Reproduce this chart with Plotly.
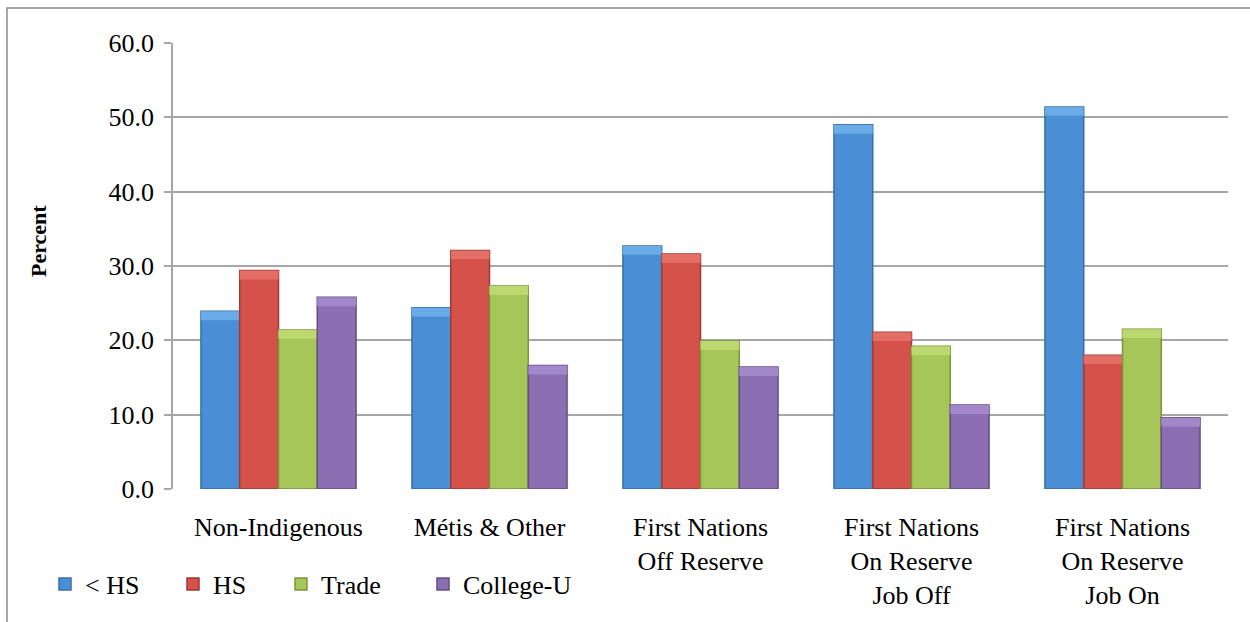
import plotly.graph_objects as go

# Share of each group by highest level of schooling (percent)
groups = [
    "Non-Indigenous",
    "Métis & Other",
    "First Nations<br>Off Reserve",
    "First Nations<br>On Reserve<br>Job Off",
    "First Nations<br>On Reserve<br>Job On",
]
less_hs = [23.9, 24.4, 32.7, 49.0, 51.4]
hs = [29.4, 32.1, 31.6, 21.1, 18.0]
trade = [21.4, 27.3, 19.9, 19.2, 21.5]
college_u = [25.8, 16.6, 16.4, 11.3, 9.6]

series_names = ["< HS", "HS", "Trade", "College-U"]
series_values = [less_hs, hs, trade, college_u]
fill_colors = ["#4a8fd6", "#d5524b", "#a6c659", "#8c6fb3"]
cap_colors = ["#6aabe8", "#e36e66", "#bcd970", "#a387cb"]
edge_colors = ["#3a6e9f", "#9c3b36", "#7a9440", "#634e82"]
y_ticks = [0, 10, 20, 30, 40, 50, 60]
CAP_DEPTH = 1.2  # height of the lighter bevel band at each bar top, in percent units

FONT = "Liberation Serif, serif"
FS = 26
W, H = 1250, 622
ML, MR, MT, MB = 173, 22, 43, 133
PW, PH = W - ML - MR, H - MT - MB


def px_to_paper_x(px):
    return (px - ML) / PW


def px_to_paper_y(py):
    return (H - MB - py) / PH


# each series gets its own legend box so the entries sit where they belong
legend_ids = ["legend", "legend2", "legend3", "legend4"]
legend_left_px = [45, 173, 281, 423]

fig = go.Figure()
for i, (name, vals, fc, cc, ec, lid) in enumerate(zip(
        series_names, series_values, fill_colors, cap_colors, edge_colors, legend_ids)):
    fig.add_trace(go.Bar(
        name=name, x=groups, y=vals, legend=lid, offsetgroup=str(i),
        marker=dict(color=fc, line=dict(color=ec, width=1.5)),
    ))
    # lighter bevel band along the top of each bar
    fig.add_trace(go.Bar(
        x=groups, y=[CAP_DEPTH] * len(vals),
        base=[v - CAP_DEPTH for v in vals],
        offsetgroup=str(i), showlegend=False, hoverinfo="skip",
        marker=dict(color=cc, line=dict(width=0)),
    ))

legend_layouts = {}
for lid, lx in zip(legend_ids, legend_left_px):
    legend_layouts[lid] = dict(
        orientation="h", x=px_to_paper_x(lx), xanchor="left",
        y=px_to_paper_y(584), yanchor="middle",
        font=dict(family=FONT, size=FS, color="black"), itemwidth=30,
        bgcolor="rgba(0,0,0,0)",
    )

fig.update_layout(
    width=W, height=H,
    margin=dict(l=ML, r=MR, t=MT, b=MB),
    paper_bgcolor="white", plot_bgcolor="white",
    barmode="group", bargap=0.265, bargroupgap=0,
    font=dict(family=FONT, size=FS, color="black"),
    showlegend=True,
    **legend_layouts,
    xaxis=dict(
        showgrid=False, showline=False, ticks="",
        tickfont=dict(family=FONT, size=FS, color="black"),
        ticklabelstandoff=20,
    ),
    yaxis=dict(
        range=[0, 60], tickvals=y_ticks, tickformat=".1f",
        showgrid=True, gridcolor="#a6a6a6", gridwidth=1.5,
        showline=True, linecolor="#a6a6a6", linewidth=1.5,
        ticks="outside", ticklen=7, tickcolor="#a6a6a6", tickwidth=1.5,
        tickfont=dict(family=FONT, size=FS, color="black"),
        ticklabelstandoff=5,
        zeroline=False,
    ),
    shapes=[
        dict(type="rect", xref="paper", yref="paper",
             x0=px_to_paper_x(7), x1=px_to_paper_x(1262),
             y0=px_to_paper_y(640), y1=px_to_paper_y(8),
             line=dict(color="#8c8c8c", width=1.5), layer="below"),
    ],
    annotations=[
        dict(text="<b>Percent</b>", textangle=-90, xref="paper", yref="paper",
             x=px_to_paper_x(39), y=px_to_paper_y(241),
             xanchor="center", yanchor="middle", showarrow=False,
             font=dict(family=FONT, size=22, color="black")),
    ],
)

fig.write_html("out.html")
